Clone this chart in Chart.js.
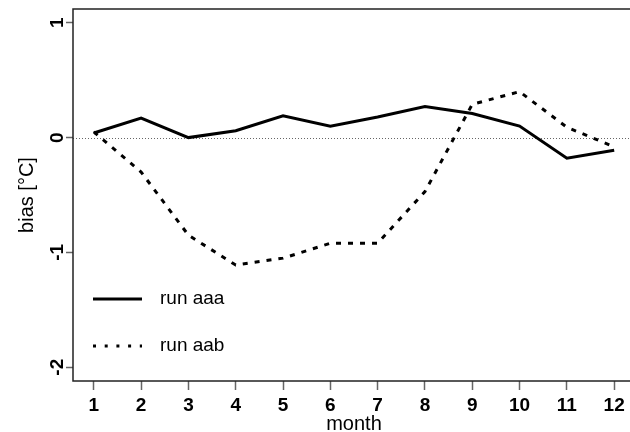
<!DOCTYPE html>
<html>
<head>
<meta charset="utf-8">
<script src="https://cdn.jsdelivr.net/npm/chart.js@4.4.1/dist/chart.umd.min.js"></script>
<style>
  html, body { margin: 0; padding: 0; background: #fff; overflow: hidden; }
  #wrap { width: 640px; height: 432px; }
</style>
</head>
<body>
<div id="wrap"><canvas id="chart" width="640" height="432"></canvas></div>
<script>
// monthly bias of the two runs
const months = [1, 2, 3, 4, 5, 6, 7, 8, 9, 10, 11, 12];
const runAaa = [0.04, 0.17, 0.00, 0.06, 0.19, 0.10, 0.18, 0.27, 0.21, 0.10, -0.18, -0.11];
const runAab = [0.05, -0.30, -0.85, -1.11, -1.05, -0.92, -0.92, -0.47, 0.29, 0.40, 0.09, -0.08];
const yTicks = [-2, -1, 0, 1];
const seriesNames = ['run aaa', 'run aab'];

const FONT = '"Liberation Sans", Arial, sans-serif';

const toPoints = (vals) => vals.map((v, i) => ({ x: months[i], y: v }));

// zero line, box, rotated y labels and legend like the R plot
const rStyle = {
  id: 'rStyle',
  beforeDatasetsDraw(chart) {
    const { ctx, chartArea: a, scales } = chart;
    const y0 = scales.y.getPixelForValue(0);
    ctx.save();
    ctx.strokeStyle = '#666';
    ctx.lineWidth = 1;
    ctx.setLineDash([1, 2]);
    ctx.beginPath();
    ctx.moveTo(a.left, Math.round(y0) + 0.5);
    ctx.lineTo(a.right, Math.round(y0) + 0.5);
    ctx.stroke();
    ctx.restore();
  },
  afterDraw(chart) {
    const { ctx, chartArea: a, scales } = chart;
    ctx.save();
    // box
    ctx.strokeStyle = '#222';
    ctx.lineWidth = 1.5;
    ctx.strokeRect(a.left, a.top, a.right - a.left, a.bottom - a.top);

    // y tick labels (parallel to axis)
    ctx.fillStyle = '#000';
    ctx.font = 'bold 19px ' + FONT;
    ctx.textAlign = 'center';
    ctx.textBaseline = 'alphabetic';
    scales.y.ticks.forEach(t => {
      const py = scales.y.getPixelForValue(t.value);
      ctx.save();
      ctx.translate(63, py);
      ctx.rotate(-Math.PI / 2);
      ctx.fillText(String(t.value), 0, 0);
      ctx.restore();
    });

    // y title
    ctx.font = '20px ' + FONT;
    ctx.save();
    ctx.translate(33, (a.top + a.bottom) / 2);
    ctx.rotate(-Math.PI / 2);
    ctx.fillText('bias [°C]', 0, 0);
    ctx.restore();

    // legend
    const rows = [299, 346];
    chart.data.datasets.forEach((ds, i) => {
      const ly = rows[i];
      ctx.save();
      ctx.strokeStyle = ds.borderColor;
      ctx.lineWidth = ds.borderWidth;
      ctx.setLineDash(ds.legendDash || []);
      ctx.beginPath();
      ctx.moveTo(93, ly);
      ctx.lineTo(142, ly);
      ctx.stroke();
      ctx.restore();
      ctx.font = '19px ' + FONT;
      ctx.textAlign = 'left';
      ctx.textBaseline = 'middle';
      ctx.fillStyle = '#000';
      ctx.fillText(ds.label, 160, ly);
    });
    ctx.restore();
  }
};

new Chart(document.getElementById('chart'), {
  type: 'line',
  data: {
    datasets: [
      {
        label: seriesNames[0],
        data: toPoints(runAaa),
        borderColor: '#000',
        borderWidth: 3,
        pointRadius: 0,
        tension: 0,
        borderJoinStyle: 'miter'
      },
      {
        label: seriesNames[1],
        data: toPoints(runAab),
        borderColor: '#000',
        borderWidth: 3,
        borderDash: [5, 7],
        legendDash: [3, 8.7],
        pointRadius: 0,
        tension: 0
      }
    ]
  },
  options: {
    responsive: false,
    devicePixelRatio: 1,
    animation: false,
    layout: { padding: { top: 9, right: 5, left: 0, bottom: 0 } },
    plugins: { legend: { display: false }, tooltip: { enabled: false } },
    scales: {
      x: {
        type: 'linear',
        min: 0.56,
        max: 12.44,
        afterBuildTicks: (s) => { s.ticks = months.map(v => ({ value: v })); },
        afterFit: (s) => { s.height = 51; },
        grid: { drawOnChartArea: false, drawTicks: true, tickLength: 9, tickColor: '#666', tickWidth: 1.5 },
        border: { display: false },
        ticks: {
          color: '#000',
          font: { family: FONT, size: 19, weight: 'bold' },
          padding: 4,
          maxRotation: 0,
          autoSkip: false
        },
        title: {
          display: true,
          text: 'month',
          color: '#000',
          font: { family: FONT, size: 20, lineHeight: 0.8 },
          padding: 0
        }
      },
      y: {
        min: -2.12,
        max: 1.12,
        afterBuildTicks: (s) => { s.ticks = yTicks.map(v => ({ value: v })); },
        afterFit: (s) => { s.width = 73; },
        grid: { drawOnChartArea: false, drawTicks: true, tickLength: 7, tickColor: '#666', tickWidth: 1.5 },
        border: { display: false },
        ticks: { display: false }
      }
    }
  },
  plugins: [rStyle]
});
</script>
</body>
</html>
